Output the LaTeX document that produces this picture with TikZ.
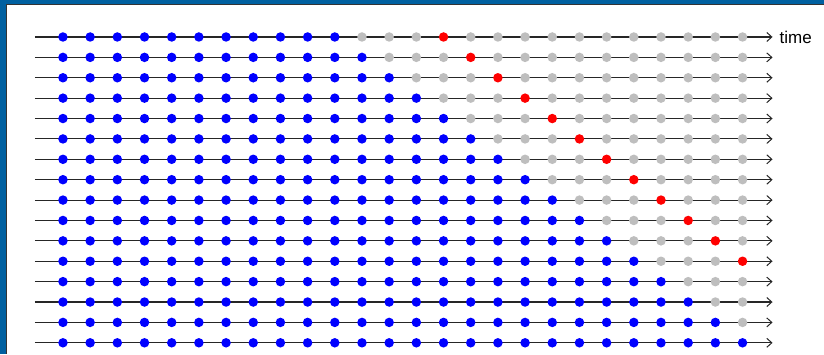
\documentclass[tikz,border=0pt]{standalone}
\usepackage{fontspec}
\setmainfont{Liberation Sans}
\usetikzlibrary{arrows.meta}
\definecolor{frameblue}{RGB}{0,96,160}
\definecolor{dotblue}{RGB}{0,0,255}
\definecolor{dotgray}{RGB}{190,190,190}
\definecolor{dotred}{RGB}{255,0,0}
\begin{document}
\begin{tikzpicture}[x=1pt,y=-1pt,
  dot/.style={circle,inner sep=0pt,minimum size=9.5pt},
  timeline/.style={line width=1.1pt, draw=black!85, -{Straight Barb[length=5pt,width=9pt,line width=1pt]}},
  label/.style={inner sep=0pt,font=\fontsize{17}{20}\selectfont}]
\fill[frameblue] (0,0) rectangle (824,354);
\fill[white] (6,5) rectangle (824,354);
\draw[black!80, line width=1pt] (6.5,354) -- (6.5,4.5) -- (824,4.5);
\useasboundingbox (0,0) rectangle (824,354);
\foreach \r in {1,...,16} {
  \pgfmathsetmacro{\y}{37+20.4*(\r-1)}
  \coordinate (s\r) at (35,\y);
  \coordinate (e\r) at (773,\y);
  \draw[timeline] (s\r) -- (e\r);
  \pgfmathtruncatemacro{\nb}{10+\r}
  \pgfmathtruncatemacro{\red}{14+\r}
  \foreach \i in {1,...,26} {
    \pgfmathsetmacro{\x}{63+27.2*(\i-1)}
    \ifnum\i>\nb
      \def\c{dotgray}\ifnum\i=\red \def\c{dotred}\fi
    \else
      \def\c{dotblue}
    \fi
    \node[dot, fill=\c] (d\r-\i) at (\x,\y) {};
  }
}
\node[label, anchor=base west] (time) at (780,43.5) {time};
\end{tikzpicture}
\end{document}
